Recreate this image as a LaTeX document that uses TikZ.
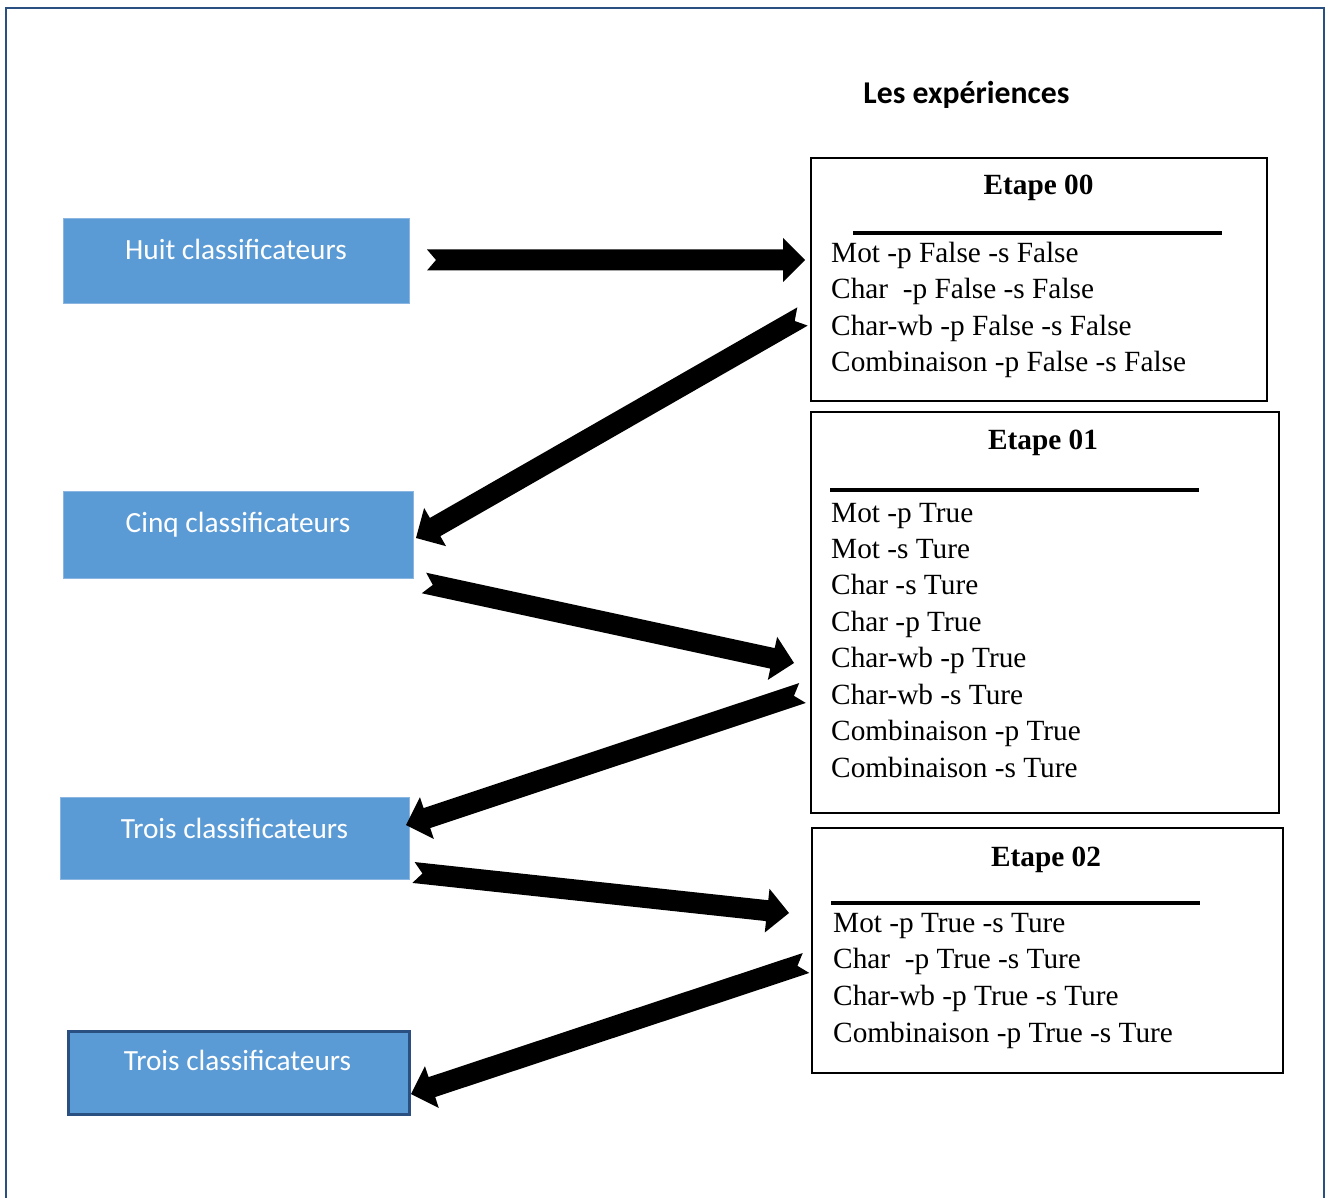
\documentclass[tikz,border=0pt]{standalone}
\usepackage{fontspec}
\setmainfont{Liberation Serif}
\newfontfamily\calibri{Carlito}
\usetikzlibrary{calc}

\definecolor{framecol}{RGB}{42,80,130}
\definecolor{boxfill}{RGB}{91,155,213}
\definecolor{boxedge}{RGB}{140,182,226}

% notched block arrow from tail #1 to tip #2
\newcommand\blockarrow[2]{%
  \coordinate (ab) at ($(#2)!22pt!(#1)$);
  \fill ($(#1)!10.5pt!90:(#2)$) -- ($(ab)!10.5pt!90:(#2)$) -- ($(ab)!22pt!90:(#2)$)
     -- (#2) -- ($(ab)!22pt!-90:(#2)$) -- ($(ab)!10.5pt!-90:(#2)$)
     -- ($(#1)!10.5pt!-90:(#2)$) -- ($(#1)!9pt!(#2)$) -- cycle;}

\begin{document}
\begin{tikzpicture}[x=1pt,y=-1pt,
  bluebox/.style={draw=boxedge, line width=1pt, fill=boxfill, anchor=north west, inner sep=0pt},
  bluetext/.style={font=\calibri\fontsize{29.3}{35}\selectfont, text=white, anchor=base, inner sep=0pt},
  stepframe/.style={draw=black, line width=2pt, anchor=north west, inner sep=0pt},
  steptitle/.style={font=\bfseries\fontsize{29.3}{35}\selectfont, anchor=base, inner sep=0pt},
  stepline/.style={font=\fontsize{29.3}{35}\selectfont, anchor=base west, inner sep=0pt},
  rulestyle/.style={line width=3.5pt}]

\useasboundingbox (0,0) rectangle (1330,1198);
\clip (0,0) rectangle (1330,1198);

% outer frame, open at the bottom
\draw[framecol, line width=2.8pt] (6,1210) -- (6,8) -- (1324,8) -- (1324,1210);

% heading
\node[font=\calibri\bfseries\fontsize{31.7}{38}\selectfont, anchor=base, inner sep=0pt] (head) at (966.5,103.5) {Les expériences};

% classifier boxes
\node[bluebox, minimum width=346pt, minimum height=85pt] (huit) at (63,218) {};
\node[bluetext] (huitT) at (236,260) {Huit classificateurs};
\node[bluebox, minimum width=350pt, minimum height=87pt] (cinq) at (63,491) {};
\node[bluetext] (cinqT) at (238,532) {Cinq classificateurs};
\node[bluebox, minimum width=349pt, minimum height=82pt] (troisA) at (60,797) {};
\node[bluetext] (troisAT) at (234.5,838) {Trois classificateurs};
\node[bluebox, draw=framecol, line width=2.5pt, minimum width=341pt, minimum height=83pt] (troisB) at (67,1030) {};
\node[bluetext] (troisBT) at (237.5,1070) {Trois classificateurs};

% step boxes
\node[stepframe, minimum width=456pt, minimum height=243pt] (s0) at (810,157) {};
\node[steptitle] (s0T) at (1038.5,195) {Etape 00};
\draw[rulestyle] (853,233) -- (1222,233);
\foreach \t [count=\i from 0] in {Mot -p False -s False, Char\ \ -p False -s False,
    Char-wb -p False -s False, Combinaison -p False -s False}
  \node[stepline] (s0l\i) at (831,262+36.5*\i) {\t};

\node[stepframe, minimum width=468pt, minimum height=401pt] (s1) at (810,411) {};
\node[steptitle] (s1T) at (1043,449) {Etape 01};
\draw[rulestyle] (830,490) -- (1199,490);
\foreach \t [count=\i from 0] in {Mot -p True, Mot -s Ture, Char -s Ture, Char -p True,
    Char-wb -p True, Char-wb -s Ture, Combinaison -p True, Combinaison -s Ture}
  \node[stepline] (s1l\i) at (831,522+36.45*\i) {\t};

\node[stepframe, minimum width=471pt, minimum height=245pt] (s2) at (811,827) {};
\node[steptitle] (s2T) at (1046,866) {Etape 02};
\draw[rulestyle] (831,903) -- (1200,903);
\foreach \t [count=\i from 0] in {Mot -p True -s Ture, Char\ \ -p True -s Ture,
    Char-wb -p True -s Ture, Combinaison -p True -s Ture}
  \node[stepline] (s2l\i) at (833,932+36.7*\i) {\t};

% arrow ends
\coordinate (a1t) at (427,260);   \coordinate (a1p) at (805,260);
\coordinate (a2t) at (802.5,316.5); \coordinate (a2p) at (416,538);
\coordinate (a3t) at (424,583);   \coordinate (a3p) at (794,663);
\coordinate (a4t) at (802.5,693); \coordinate (a4p) at (406,825);
\coordinate (a5t) at (413.5,872.5); \coordinate (a5p) at (789,913);
\coordinate (a6t) at (806,963);   \coordinate (a6p) at (411,1094);

\blockarrow{a1t}{a1p}
\blockarrow{a2t}{a2p}
\blockarrow{a3t}{a3p}
\blockarrow{a4t}{a4p}
\blockarrow{a5t}{a5p}
\blockarrow{a6t}{a6p}
\end{tikzpicture}
\end{document}
